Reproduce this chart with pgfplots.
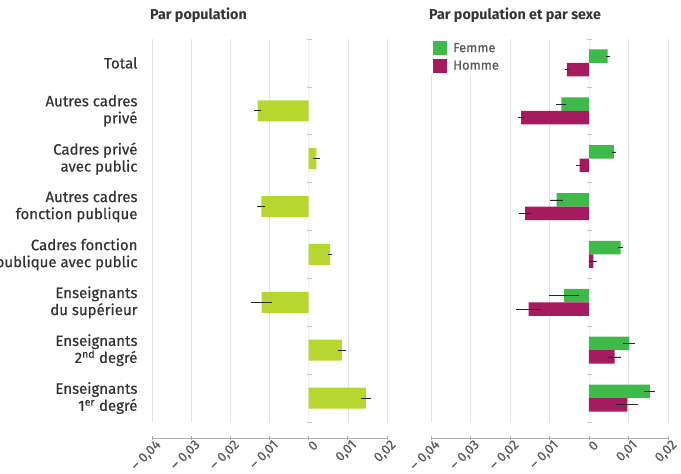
\documentclass[border=0pt]{standalone}
\usepackage{fontspec}
\setmainfont{Fira Sans}
\newfontfamily\lbl{Fira Sans}[FakeBold=0.4]
\usepackage{pgfplots}
\pgfplotsset{compat=1.18}
\definecolor{lime}{HTML}{B8D630}
\definecolor{fem}{HTML}{3DBA4A}
\definecolor{hom}{HTML}{A61A5E}
\definecolor{txt}{HTML}{333333}
\definecolor{tk}{HTML}{5A5A5A}
\pgfplotsset{
 panel/.style={
  scale only axis, height=399pt, anchor=south west,
  xmin=-0.04, xmax=0.02, ymin=-0.834, ymax=7.5,
  axis x line*=bottom, axis y line*=left,
  y axis line style={draw=none}, ytick style={draw=none},
  x axis line style={-, draw=gray!65, line width=0.8pt},
  scaled x ticks=false,
  xtick={-0.04,-0.03,-0.02,-0.01,0,0.01,0.02},
  xticklabels={{\textendash\ 0,04},{\textendash\ 0,03},{\textendash\ 0,02},{\textendash\ 0,01},0,{0,01},{0,02}},
  xtick style={draw=gray!65, line width=0.8pt},
  tick align=center, major tick length=4pt,
  xticklabel style={rotate=45, anchor=east, font=\lbl\fontsize{13.5}{13.5}\selectfont, text=tk, inner sep=0pt, yshift=-7pt, xshift=3pt},
  clip=false,
  title style={anchor=base west, at={(0,1)}, yshift=13pt, xshift=-2pt, font=\fontsize{14.3}{16}\selectfont\bfseries, text=txt, inner sep=0pt},
  xbar,
 },
 gridl/.code={
  \pgfplotsinvokeforeach{-0.04,-0.03,-0.02,-0.01,0.01,0.02}{\draw[gray!22, line width=0.6pt] (axis cs:##1,-0.5) -- (axis cs:##1,7.5);}
  \draw[gray!12, line width=0.6pt] (axis cs:0,-0.5) -- (axis cs:0,7.5);
  \pgfplotsinvokeforeach{-0.5,0.5,1.5,2.5,3.5,4.5,5.5,6.5,7.5}{\draw[gray!45, line width=0.6pt] ([xshift=-2pt]axis cs:0,##1) -- ([xshift=3pt]axis cs:0,##1);}
 },
 eb/.style={error bars/.cd, x dir=both, x explicit, error mark=none, error bar style={black!85, line width=0.7pt}},
}
\begin{document}
\begin{tikzpicture}[x=1pt,y=1pt]
\begin{axis}[panel, width=235pt, at={(152pt,36pt)},
  title={Par population},
  ytick={0,1,2,3,4,5,6,7},
  yticklabels={{Enseignants\\1\textsuperscript{er} degré},{Enseignants\\2\textsuperscript{nd} degré},{Enseignants\\du supérieur},{Cadres fonction\\publique avec public},{Autres cadres\\fonction publique},{Cadres privé\\avec public},{Autres cadres\\privé},Total},
  yticklabel style={align=right, font=\lbl\fontsize{15}{17}\selectfont, text=txt, xshift=-7pt},
]
\pgfplotsset{gridl}
\addplot[fill=lime, draw=none, bar width=21pt, bar shift=0pt, eb] coordinates {
 (-0.0130,6) +- (0.0009,0)
 (0.0020,5) +- (0.0008,0)
 (-0.0121,4) +- (0.0010,0)
 (0.0055,3) +- (0.0005,0)
 (-0.0120,2) +- (0.0026,0)
 (0.0085,1) +- (0.0010,0)
 (0.0146,0) +- (0.0012,0)
};
\end{axis}
\begin{axis}[panel, width=237pt, at={(431pt,36pt)},
  title={Par population et par sexe},
  ytick=\empty,
  legend style={at={(0,1)}, anchor=north west, draw=none, fill=white, font=\lbl\fontsize{13}{14}\selectfont, text=tk, inner xsep=2pt, inner ysep=2pt, row sep=3pt, cells={anchor=west}, /tikz/every odd column/.style={column sep=4pt}},
  legend image code/.code={\fill[#1] (0pt,-7pt) rectangle (14pt,7pt);},
]
\pgfplotsset{gridl}
\addplot[fill=fem, draw=none, bar width=13.5pt, bar shift=0pt, eb] coordinates {
 (0.0047,7.14) +- (0.0005,0)
 (-0.0070,6.14) +- (0.0013,0)
 (0.0063,5.14) +- (0.0006,0)
 (-0.0082,4.14) +- (0.0016,0)
 (0.0080,3.14) +- (0.0006,0)
 (-0.0063,2.14) +- (0.0038,0)
 (0.0102,1.14) +- (0.0015,0)
 (0.0154,0.14) +- (0.0014,0)
};
\addlegendentry{Femme}
\addplot[fill=hom, draw=none, bar width=13.5pt, bar shift=0pt, eb] coordinates {
 (-0.0056,6.86) +- (0.0006,0)
 (-0.0172,5.86) +- (0.0007,0)
 (-0.0024,4.86) +- (0.0008,0)
 (-0.0162,3.86) +- (0.0016,0)
 (0.0011,2.86) +- (0.0010,0)
 (-0.0153,1.86) +- (0.0031,0)
 (0.0065,0.86) +- (0.0017,0)
 (0.0097,-0.14) +- (0.0028,0)
};
\addlegendentry{Homme}
\end{axis}
\pgfresetboundingbox
\path[use as bounding box] (0pt,0pt) rectangle (681pt,474pt);
\end{tikzpicture}
\end{document}
